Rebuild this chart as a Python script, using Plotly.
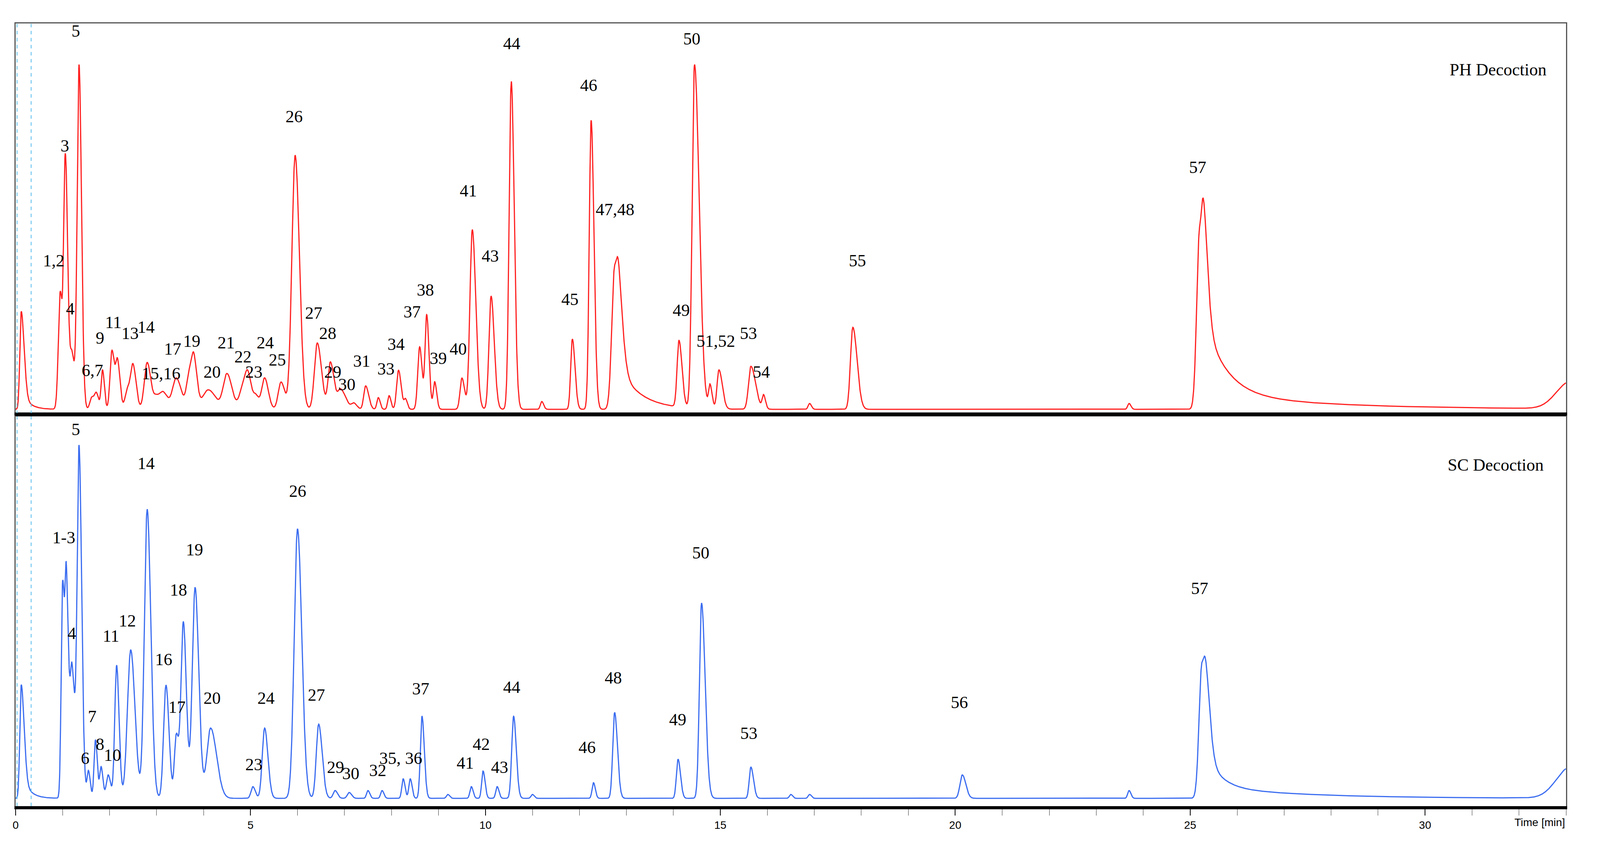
import numpy as np
import plotly.graph_objects as go
from plotly.subplots import make_subplots

# ---------------- data ----------------
# PH decoction peaks: retention time (min), height (% of panel), width (min), tailing factor
ph_rt = [0.12, 0.95, 1.05, 1.1, 1.2, 1.35, 1.62, 1.72, 1.85, 2.05, 2.17, 2.38, 2.5, 2.8, 3.0, 3.15, 3.42, 3.7, 3.8, 4.1, 4.5, 4.85, 4.95,
         5.12, 5.3, 5.65, 5.95, 6.42, 6.7, 6.92, 7.2, 7.45, 7.72, 7.95, 8.15, 8.3, 8.6, 8.75, 8.92, 9.5, 9.72, 10.12, 10.55,
         11.2, 11.85, 12.25, 12.75, 14.12, 14.45, 14.78, 14.97, 15.65, 15.92, 16.9, 17.82, 23.7, 25.2, 33.1]
ph_h = [25, 30, 55, 25, 14, 88, 3, 4, 10, 15, 12, 5, 11, 12, 3, 4, 8, 9, 10, 5, 9, 6, 6,
        3, 8, 7, 65, 17, 12, 5, 1.5, 6, 3, 3.5, 10, 2.5, 16, 24, 7, 8, 46, 29, 84,
        2, 18, 74, 36, 17, 88, 6, 10, 11, 3.5, 1.5, 21, 1.5, 45, 7]
ph_w = [0.03, 0.04, 0.03, 0.03, 0.04, 0.04, 0.04, 0.04, 0.03, 0.04, 0.04, 0.05, 0.05, 0.06, 0.06, 0.07, 0.08, 0.06, 0.05, 0.12, 0.08, 0.08, 0.06,
        0.05, 0.06, 0.06, 0.07, 0.06, 0.05, 0.06, 0.05, 0.04, 0.03, 0.03, 0.04, 0.03, 0.04, 0.035, 0.03, 0.04, 0.05, 0.045, 0.045,
        0.03, 0.035, 0.04, 0.06, 0.04, 0.05, 0.03, 0.04, 0.05, 0.03, 0.03, 0.05, 0.03, 0.06, 0.3]
ph_tail = [1.0, 0.2, 0.2, 0.3, 0.3, 0.3, 0.2, 0.2, 0.3, 0.3, 0.3, 0.2, 0.3, 0.3, 0.3, 0.3, 0.3, 0.3, 0.3, 0.3, 0.3, 0.3, 0.3,
           0.3, 0.3, 0.3, 0.3, 0.5, 0.6, 0.8, 0.3, 0.6, 0.3, 0.3, 0.4, 0.3, 0.3, 0.4, 0.4, 0.4, 0.5, 0.5, 0.4,
           0.3, 0.6, 0.5, 1.0, 0.6, 1.0, 0.5, 0.8, 1.0, 0.4, 0.3, 0.8, 0.3, 1.0, -0.9]
# exponential tails (start time, height, decay constant in min)
ph_tail_rt = [0.2, 12.8, 25.25, 25.3]
ph_tail_h = [3, 12, 22, 4]
ph_tail_tau = [0.15, 0.45, 0.45, 2.5]

ph_labels = ["1,2", "3", "4", "5", "6,7", "9", "11", "13", "14", "15,16", "17", "19", "20", "21", "22", "23", "24", "25", "26",
             "27", "28", "29", "30", "31", "33", "34", "37", "38", "39", "40", "41", "43", "44", "45", "46", "47,48", "49", "50",
             "51,52", "53", "54", "55", "57"]
ph_lab_x = [0.81, 1.05, 1.16, 1.28, 1.63, 1.8, 2.08, 2.44, 2.78, 3.1, 3.34, 3.75, 4.18, 4.48, 4.84, 5.07, 5.31, 5.57, 5.93,
            6.34, 6.64, 6.75, 7.05, 7.37, 7.88, 8.1, 8.44, 8.72, 9.0, 9.42, 9.64, 10.1, 10.56, 11.8, 12.2, 12.76, 14.17, 14.39,
            14.9, 15.6, 15.87, 17.92, 25.16]
ph_lab_y = [166, 92, 197, 18, 237, 216, 206, 213, 209, 239, 223, 218, 238, 219, 228, 238, 219, 230, 73,
            200, 213, 238, 246, 231, 236, 220, 199, 185, 229, 223, 121, 163, 26, 191, 53, 133, 198, 23,
            218, 213, 238, 166, 106]

# SC decoction peaks
sc_rt = [0.12, 1.0, 1.08, 1.2, 1.35, 1.55, 1.7, 1.82, 1.97, 2.15, 2.45, 2.8, 3.2, 3.42, 3.57, 3.82, 4.15, 5.05, 5.3, 6.0, 6.45,
         6.8, 7.1, 7.5, 7.8, 8.25, 8.4, 8.65, 9.2, 9.7, 9.95, 10.25, 10.6, 11.0, 12.3, 12.75, 14.1, 14.6, 15.65, 16.5, 16.9,
         20.15, 23.7, 25.25, 33.1]
sc_h = [29, 54, 55, 33, 89, 7, 15, 8, 6, 34, 38, 74, 29, 16, 45, 54, 18, 3, 18, 69, 19,
        2, 1.5, 2, 2, 5, 5, 21, 1, 3, 7, 3, 21, 1, 4, 22, 10, 50, 8, 1, 1,
        6, 2, 34, 8]
sc_w = [0.03, 0.03, 0.03, 0.04, 0.04, 0.03, 0.03, 0.03, 0.04, 0.04, 0.07, 0.06, 0.05, 0.04, 0.05, 0.06, 0.08, 0.04, 0.05, 0.07, 0.05,
        0.04, 0.04, 0.03, 0.03, 0.03, 0.03, 0.035, 0.03, 0.03, 0.03, 0.03, 0.04, 0.03, 0.03, 0.04, 0.035, 0.045, 0.035, 0.03, 0.03,
        0.05, 0.03, 0.06, 0.3]
sc_tail = [1.0, 0.2, 0.5, 0.5, 0.4, 0.3, 0.3, 0.3, 0.3, 0.3, 0.3, 0.3, 0.3, 0.3, 0.3, 0.3, 0.6, 0.3, 0.4, 0.3, 0.5,
           0.3, 0.3, 0.3, 0.3, 0.3, 0.3, 0.4, 0.3, 0.3, 0.4, 0.3, 0.4, 0.3, 0.3, 0.5, 0.5, 0.7, 0.6, 0.3, 0.3,
           0.5, 0.3, 1.0, -0.9]
sc_tail_rt = [0.2, 25.3, 25.35]
sc_tail_h = [4, 10, 3]
sc_tail_tau = [0.15, 0.3, 2.0]

sc_labels = ["5", "1-3", "4", "7", "8", "6", "10", "11", "12", "14", "16", "17", "18", "19", "20", "23", "24", "26", "27",
             "29", "30", "32", "35, 36", "37", "41", "42", "43", "44", "46", "48", "49", "50", "53", "56", "57"]
sc_lab_x = [1.28, 1.03, 1.2, 1.63, 1.8, 1.48, 2.06, 2.03, 2.38, 2.78, 3.15, 3.43, 3.47, 3.81, 4.18, 5.07, 5.33, 6.0, 6.4,
            6.81, 7.13, 7.71, 8.2, 8.62, 9.57, 9.91, 10.3, 10.56, 12.16, 12.72, 14.09, 14.58, 15.61, 20.09, 25.2]
sc_lab_y = [274, 344, 406, 460, 478, 487, 485, 408, 398, 296, 423, 454, 378, 352, 448, 491, 448, 314, 446,
            493, 497, 495, 487, 442, 490, 478, 493, 441, 480, 435, 462, 354, 471, 451, 377]


def trace_y(t, rts, hs, ws, tails, trt, th, ttau):
    y = np.zeros_like(t)
    for rt, h, w, tl in zip(rts, hs, ws, tails):
        wr = w * (1 + tl)
        s = np.where(t < rt, w, wr)
        y += h * np.exp(-0.5 * ((t - rt) / s) ** 2)
    for rt, h, tau in zip(trt, th, ttau):
        rise = 1 / (1 + np.exp(-(t - rt) / 0.02))
        y += h * rise * np.exp(-np.clip(t - rt, 0, None) / tau)
    return y


t = np.arange(0, 33.0, 0.004)
y_ph = trace_y(t, ph_rt, ph_h, ph_w, ph_tail, ph_tail_rt, ph_tail_h, ph_tail_tau)
y_sc = trace_y(t, sc_rt, sc_h, sc_w, sc_tail, sc_tail_rt, sc_tail_h, sc_tail_tau)

fig = make_subplots(rows=2, cols=1, shared_xaxes=True, vertical_spacing=0)
fig.add_trace(go.Scatter(x=t, y=y_ph, mode="lines", line=dict(color="#ff2020", width=3), showlegend=False), row=1, col=1)
fig.add_trace(go.Scatter(x=t, y=y_sc, mode="lines", line=dict(color="#3a6cf0", width=3), showlegend=False), row=2, col=1)

lab_font = dict(family="Liberation Serif", size=44, color="black")
for txt, x, yd in zip(ph_labels, ph_lab_x, ph_lab_y):
    fig.add_annotation(x=x, y=(262 - yd) / 252 * 100, text=txt, showarrow=False, font=lab_font, xref="x", yref="y")
for txt, x, yd in zip(sc_labels, sc_lab_x, sc_lab_y):
    fig.add_annotation(x=x, y=(513 - yd) / 253 * 100, text=txt, showarrow=False, font=lab_font, xref="x2", yref="y2")
fig.add_annotation(x=31.55, y=(262 - 43) / 252 * 100, text="PH Decoction", showarrow=False, font=lab_font, xref="x", yref="y")
fig.add_annotation(x=31.5, y=(513 - 297) / 253 * 100, text="SC Decoction", showarrow=False, font=lab_font, xref="x2", yref="y2")
fig.add_annotation(x=1.0, xref="paper", y=-0.012, yref="paper", text="Time [min]", showarrow=False, xanchor="right", yanchor="top",
                   font=dict(family="Liberation Sans", size=28, color="black"))

for yr in ["y", "y2"]:
    for xv in [0.03, 0.33]:
        fig.add_shape(type="line", x0=xv, x1=xv, y0=0, y1=1, xref="x", yref=yr + " domain",
                      line=dict(color="#55bbee", width=2, dash="dash"))

fig.update_xaxes(range=[0, 33.0], showgrid=False, zeroline=False, linecolor="#555", linewidth=3, mirror=True)
fig.update_xaxes(row=2, col=1, tickvals=[0, 5, 10, 15, 20, 25, 30], ticks="outside", ticklen=16, tickwidth=2, tickcolor="black",
                 tickfont=dict(family="Liberation Sans", size=28, color="black"), linecolor="black", linewidth=8,
                 minor=dict(ticks="outside", dtick=1, ticklen=16, tickcolor="#333", tickwidth=1))
fig.update_yaxes(showgrid=False, zeroline=False, showticklabels=False, ticks="", linecolor="#555", linewidth=3, mirror=True)
fig.update_yaxes(range=[-1.2, 98.8], row=1, col=1, domain=[0.501, 1])
fig.update_yaxes(range=[-2, 98], row=2, col=1, domain=[0, 0.499])
fig.add_shape(type="line", x0=0, x1=1, xref="paper", y0=0.5, y1=0.5, yref="paper", line=dict(color="black", width=8))

fig.update_layout(autosize=True, margin=dict(l=32, r=79, t=52, b=110), plot_bgcolor="white", paper_bgcolor="white")
fig.write_html("out.html", default_width="100%", default_height="100vh",
               config={"responsive": True})
